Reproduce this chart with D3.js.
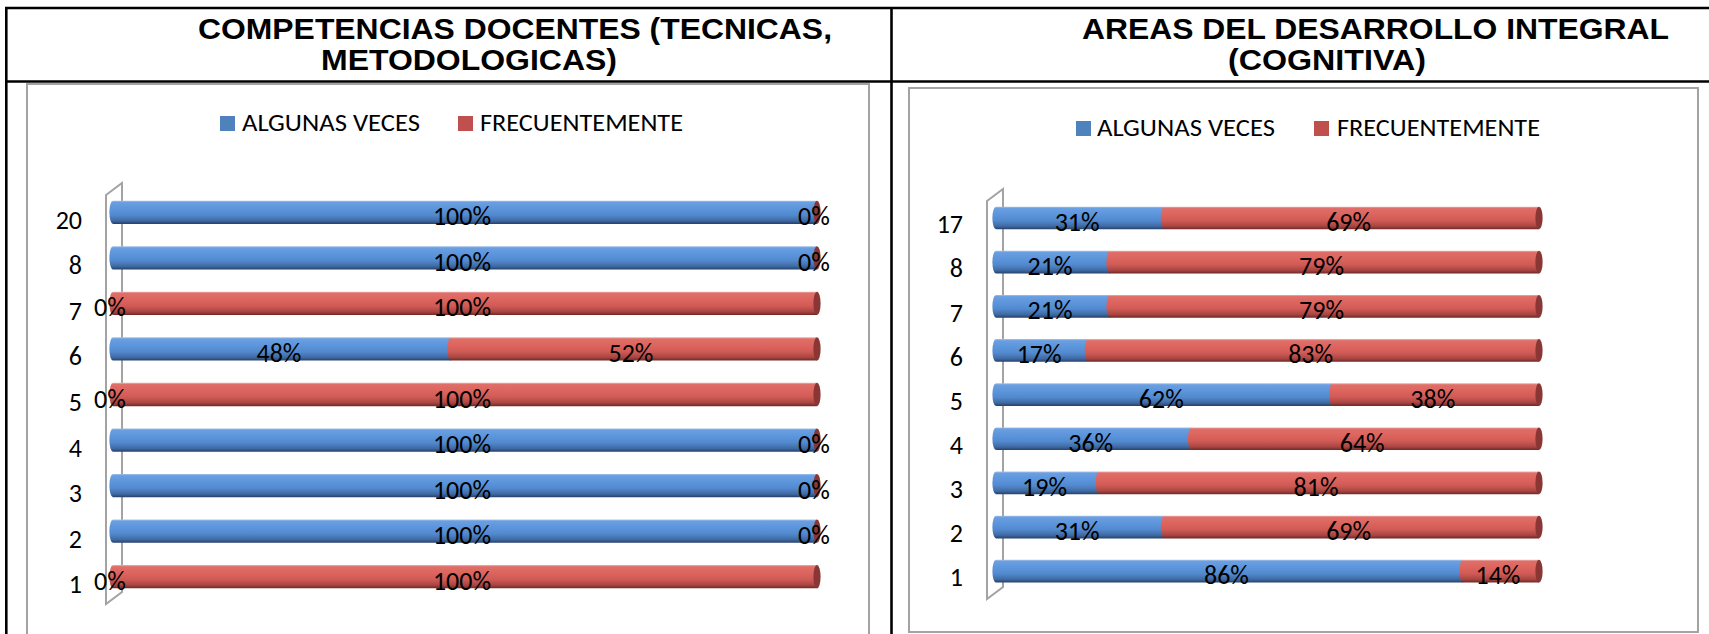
<!DOCTYPE html>
<html>
<head>
<meta charset="utf-8">
<script src="https://cdn.jsdelivr.net/npm/d3@7"></script>
<style>
  html, body { margin: 0; padding: 0; background: #fff; overflow: hidden; }
  svg.vis { display: block; }
</style>
</head>
<body>
<svg class="vis" width="1709" height="634"></svg>
<script>
// series / categories / values
const series = ["ALGUNAS VECES", "FRECUENTEMENTE"];

const comp_titulo = ["COMPETENCIAS DOCENTES (TECNICAS,", "METODOLOGICAS)"];
const comp_categorias = ["20", "8", "7", "6", "5", "4", "3", "2", "1"];
const comp_algunas    = [100, 100, 0, 48, 0, 100, 100, 100, 0];
const comp_frecuente  = [0, 0, 100, 52, 100, 0, 0, 0, 100];

const cogn_titulo = ["AREAS DEL DESARROLLO INTEGRAL", "(COGNITIVA)"];
const cogn_categorias = ["17", "8", "7", "6", "5", "4", "3", "2", "1"];
const cogn_algunas    = [31, 21, 21, 17, 62, 36, 19, 31, 86];
const cogn_frecuente  = [69, 79, 79, 83, 38, 64, 81, 69, 14];

const vis = {

    sels: { svg: null, defs: null },

    dims: { w: 1709, h: 634 },

    fonts: {
        title: "'Liberation Sans', Arial, sans-serif",
        body: "Carlito, Calibri, Lato, sans-serif"
    },

    colors: {
        blue: ["#a9c3e6", "#6a9fe2", "#5b94da", "#5289ce", "#3f6aa3", "#26406a"],
        red:  ["#eab2af", "#e06e68", "#dc635d", "#cf5a55", "#a84541", "#6e2826"],
        legend: ["#4f81bd", "#c0504d"],
        caps: ["#3c5f8f", "#8a3634"],
        frame: "#a3a3a3",
        ink: "#000"
    },

    // page layout, one entry per panel
    panels: [
        {
            titulo: comp_titulo,
            lines: [{ x: 198, len: 634, y: 39 }, { x: 321, len: 296, y: 70 }],
            frame: { x: 27, y: 84, w: 842, h: 620 },
            legend: { y: 131, items: [{ sq: 220, tx: 242, len: 178 }, { sq: 458, tx: 480, len: 203 }] },
            wall: { x0: 106, x1: 122, top: 183, bottom: 604, skew: 12 },
            x: [113, 817],
            y: [212.3, 576.7],
            barH: 23.3,
            axisX: 82, axisDy: 7.7,
            cats: comp_categorias, a: comp_algunas, f: comp_frecuente
        },
        {
            titulo: cogn_titulo,
            lines: [{ x: 1082, len: 587, y: 39 }, { x: 1228, len: 198, y: 70 }],
            frame: { x: 909, y: 88, w: 789, h: 544 },
            legend: { y: 136, items: [{ sq: 1076, tx: 1097, len: 178 }, { sq: 1314, tx: 1337, len: 203 }] },
            wall: { x0: 987, x1: 1003, top: 189, bottom: 599, skew: 12 },
            x: [996, 1539],
            y: [218, 571.2],
            barH: 22.7,
            axisX: 963, axisDy: 6.4,
            cats: cogn_categorias, a: cogn_algunas, f: cogn_frecuente
        }
    ],

    init: function() {
        vis.sels.svg = d3.select("svg.vis");
        vis.sels.defs = vis.sels.svg.append("defs");
        vis.f.gradients();
        vis.f.table();
        vis.panels.forEach(p => vis.draw.panel(p));
    },

    f: {

        gradients: function() {
            ["blue", "red"].forEach(name => {
                const stops = [0, 0.07, 0.38, 0.62, 0.86, 1];
                vis.sels.defs.append("linearGradient")
                  .attr("id", "grad-" + name)
                  .attr("x1", 0).attr("y1", 0).attr("x2", 0).attr("y2", 1)
                  .selectAll("stop")
                  .data(stops)
                  .join("stop")
                  .attr("offset", d => d)
                  .attr("stop-color", (d, i) => vis.colors[name][i]);
            });
        },

        // black lines of the word table
        table: function() {
            const g = vis.sels.svg.append("g")
              .attr("stroke", "#000")
              .attr("stroke-width", 2.6)
              .attr("fill", "none");
            g.append("line").attr("x1", 5).attr("x2", vis.dims.w).attr("y1", 8).attr("y2", 8);
            g.append("line").attr("x1", 5).attr("x2", vis.dims.w).attr("y1", 81.5).attr("y2", 81.5);
            g.append("line").attr("x1", 6.3).attr("x2", 6.3).attr("y1", 7).attr("y2", vis.dims.h);
            g.append("line").attr("x1", 891.5).attr("x2", 891.5).attr("y1", 7).attr("y2", vis.dims.h);
        }
    },

    draw: {

        panel: function(p) {

            const svg = vis.sels.svg;
            const g = svg.append("g");

            // title
            g.selectAll("text.titulo")
              .data(p.titulo)
              .join("text")
              .attr("class", "titulo")
              .attr("x", (d, i) => p.lines[i].x)
              .attr("y", (d, i) => p.lines[i].y)
              .attr("textLength", (d, i) => p.lines[i].len)
              .attr("lengthAdjust", "spacingAndGlyphs")
              .attr("font-family", vis.fonts.title)
              .attr("font-weight", "bold")
              .attr("font-size", 29)
              .attr("fill", vis.colors.ink)
              .text(d => d);

            // chart frame
            g.append("rect")
              .attr("x", p.frame.x).attr("y", p.frame.y)
              .attr("width", p.frame.w).attr("height", p.frame.h)
              .attr("fill", "#fff")
              .attr("stroke", vis.colors.frame)
              .attr("stroke-width", 2);

            // legend
            const lg = g.append("g").selectAll("g")
              .data(series)
              .join("g");
            lg.append("rect")
              .attr("x", (d, i) => p.legend.items[i].sq)
              .attr("y", p.legend.y - 15)
              .attr("width", 15).attr("height", 15)
              .attr("fill", (d, i) => vis.colors.legend[i]);
            lg.append("text")
              .attr("x", (d, i) => p.legend.items[i].tx)
              .attr("y", p.legend.y)
              .attr("textLength", (d, i) => p.legend.items[i].len)
              .attr("lengthAdjust", "spacingAndGlyphs")
              .attr("font-family", vis.fonts.body)
              .attr("font-size", 24.5)
              .attr("fill", vis.colors.ink)
              .text(d => d);

            // 3d side wall
            const w = p.wall;
            const wall = d3.path();
            wall.moveTo(w.x0, w.top + w.skew);
            wall.lineTo(w.x1, w.top);
            wall.lineTo(w.x1, w.bottom - w.skew);
            wall.lineTo(w.x0, w.bottom);
            wall.closePath();
            g.append("path")
              .attr("d", wall.toString())
              .attr("fill", "#fff")
              .attr("stroke", vis.colors.frame)
              .attr("stroke-width", 2);

            // scales
            const x = d3.scaleLinear().domain([0, 100]).range(p.x);
            const y = d3.scalePoint().domain(p.cats).range(p.y);
            const h = p.barH;
            const rx = 3.6;

            const rows = p.cats.map((c, i) => ({
                cat: c,
                segs: [
                    { s: 0, v: p.a[i], v0: 0, v1: p.a[i] },
                    { s: 1, v: p.f[i], v0: p.a[i], v1: p.a[i] + p.f[i] }
                ]
            }));

            const bars = g.append("g").selectAll("g")
              .data(rows)
              .join("g")
              .attr("transform", d => `translate(0,${y(d.cat)})`);

            // cylinder segments: each one starts with a rounded left end
            bars.selectAll("path.seg")
              .data(d => d.segs.filter(s => s.v > 0))
              .join("path")
              .attr("class", "seg")
              .attr("d", s => {
                  const x0 = x(s.v0), x1 = x(s.v1);
                  return `M${x0},${-h / 2}L${x1},${-h / 2}L${x1},${h / 2}L${x0},${h / 2}` +
                         `A${rx},${h / 2} 0 0 1 ${x0},${-h / 2}Z`;
              })
              .attr("fill", s => s.s === 0 ? "url(#grad-blue)" : "url(#grad-red)");

            // end cap of the cylinder
            bars.append("ellipse")
              .attr("cx", x(100))
              .attr("cy", 0)
              .attr("rx", rx)
              .attr("ry", h / 2)
              .attr("fill", vis.colors.caps[1]);

            // data labels
            bars.selectAll("text.lab")
              .data(d => d.segs)
              .join("text")
              .attr("class", "lab")
              .attr("x", s => x((s.v0 + s.v1) / 2) - 3)
              .attr("y", 13)
              .attr("text-anchor", "middle")
              .attr("font-family", vis.fonts.body)
              .attr("font-size", 26)
              .attr("fill", vis.colors.ink)
              .text(s => s.v + "%");

            // category axis
            const ax = g.append("g")
              .attr("transform", `translate(${p.axisX},${p.axisDy})`)
              .call(d3.axisLeft(y).tickSize(0).tickPadding(0));
            ax.select(".domain").remove();
            ax.selectAll("text")
              .attr("font-family", vis.fonts.body)
              .attr("font-size", 26)
              .attr("fill", vis.colors.ink);
        }
    }
};

vis.init();
</script>
</body>
</html>
